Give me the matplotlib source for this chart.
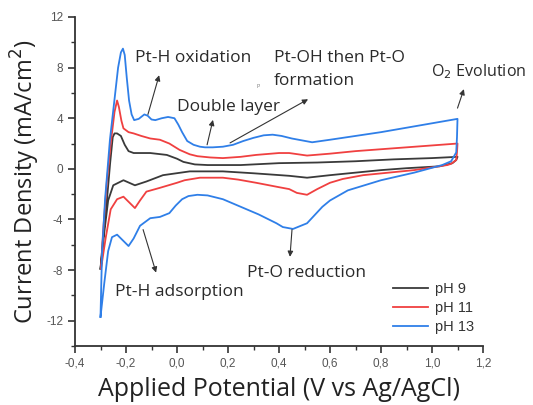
import matplotlib
matplotlib.use("Agg")
import matplotlib.pyplot as plt
from matplotlib.ticker import MultipleLocator, FuncFormatter

# ---- data ----
ph9_x = [-0.300, -0.290, -0.275, -0.262, -0.252, -0.245, -0.235, -0.220, -0.205, -0.190, -0.170,
         -0.105, -0.040, 0.000, 0.025, 0.070, 0.120, 0.250, 0.400, 0.550, 0.700, 0.850, 1.000, 1.100,
         1.095, 1.080, 1.030, 0.900, 0.800, 0.700, 0.600, 0.510, 0.440, 0.300, 0.180, 0.050,
         -0.055, -0.120, -0.165, -0.210, -0.250, -0.270, -0.285, -0.300]
ph9_y = [-7.9, -5.5, -2.5, 0.5, 2.5, 2.8, 2.8, 2.6, 1.9, 1.4, 1.25,
         1.25, 1.1, 0.8, 0.55, 0.35, 0.3, 0.3, 0.45, 0.5, 0.6, 0.75, 0.85, 0.95,
         0.7, 0.45, 0.2, 0.05, -0.1, -0.3, -0.5, -0.7, -0.55, -0.35, -0.2, -0.2,
         -0.5, -1.0, -1.3, -0.9, -1.3, -2.5, -5.0, -7.9]

ph11_x = [-0.298, -0.290, -0.275, -0.260, -0.245, -0.235, -0.228, -0.218, -0.210, -0.190, -0.170,
          -0.140, -0.105, -0.067, -0.030, 0.010, 0.050, 0.080, 0.130, 0.180, 0.250, 0.310, 0.400,
          0.440, 0.510, 0.600, 0.700, 0.800, 0.900, 1.000, 1.100,
          1.098, 1.095, 1.075, 1.060, 0.930, 0.830, 0.730, 0.650, 0.600, 0.550, 0.510, 0.470,
          0.440, 0.400, 0.310, 0.240, 0.180, 0.090, 0.030, 0.000, -0.067, -0.120, -0.145,
          -0.165, -0.190, -0.210, -0.235, -0.260, -0.280, -0.298]
ph11_y = [-7.9, -5.0, -1.0, 2.0, 4.5, 5.4, 4.9, 3.8, 3.2, 2.9, 2.8,
          2.6, 2.4, 2.3, 2.0, 1.5, 1.15, 1.0, 0.9, 0.85, 0.95, 1.1, 1.25,
          1.25, 1.05, 1.2, 1.4, 1.55, 1.7, 1.85, 2.0,
          1.3, 0.7, 0.4, 0.3, -0.1, -0.3, -0.5, -0.8, -1.1, -1.6, -2.05, -1.9,
          -1.6, -1.45, -1.1, -0.85, -0.7, -0.7, -0.9, -1.1, -1.5, -1.8, -2.5,
          -3.1, -2.6, -2.2, -2.4, -3.2, -5.5, -7.9]

ph13_x = [-0.300, -0.294, -0.282, -0.263, -0.245, -0.231, -0.220, -0.212, -0.205, -0.197, -0.188,
          -0.178, -0.168, -0.150, -0.128, -0.115, -0.100, -0.085, -0.060, -0.035, -0.010, 0.005,
          0.020, 0.040, 0.065, 0.090, 0.110, 0.140, 0.180, 0.220, 0.260, 0.300, 0.340, 0.375,
          0.410, 0.450, 0.490, 0.530, 0.600, 0.700, 0.800, 0.900, 1.000, 1.100,
          1.098, 1.095, 1.075, 1.040, 0.930, 0.800, 0.670, 0.600, 0.570, 0.510, 0.455, 0.415,
          0.390, 0.320, 0.250, 0.180, 0.120, 0.080, 0.045, 0.020, -0.005, -0.030, -0.067, -0.105,
          -0.145, -0.170, -0.190, -0.215, -0.235, -0.255, -0.270, -0.285, -0.300]
ph13_y = [-11.7, -6.6, -2.4, 2.3, 5.5, 8.0, 9.2, 9.5, 9.0, 7.2, 5.4,
          4.3, 3.85, 3.95, 4.3, 4.2, 3.9, 3.85, 4.0, 4.1, 4.0, 3.5,
          2.9, 2.2, 1.9, 1.75, 1.7, 1.7, 1.75, 1.9, 2.2, 2.45, 2.65, 2.7,
          2.6, 2.4, 2.25, 2.1, 2.3, 2.6, 2.9, 3.25, 3.6, 3.95,
          2.5, 1.3, 0.6, 0.3, -0.3, -0.9, -1.7, -2.5, -3.0, -4.3, -4.75, -4.6,
          -4.3, -3.6, -3.0, -2.4, -2.1, -2.05, -2.15, -2.4, -2.9, -3.5, -3.8, -3.9,
          -4.5, -5.5, -6.1, -5.6, -5.2, -5.4, -6.5, -9.0, -11.7]

labels = ["pH 9", "pH 11", "pH 13"]
colors = ["#3a3a3a", "#f04040", "#2f7fe8"]

xticks = [-0.4, -0.2, 0.0, 0.2, 0.4, 0.6, 0.8, 1.0, 1.2]
yticks = [-12, -8, -4, 0, 4, 8, 12]

# ---- figure ----
fig = plt.figure(figsize=(5.33, 4.05), dpi=100)
ax = fig.add_axes([75/533, 1 - 346/405, 408/533, 329/405])

for xs, ys, lab, c in zip([ph9_x, ph11_x, ph13_x], [ph9_y, ph11_y, ph13_y], labels, colors):
    ax.plot(xs, ys, color=c, lw=1.3, label=lab, solid_joinstyle="round")

ax.set_xlim(-0.4, 1.2)
ax.set_ylim(-14, 12)
ax.set_xticks(xticks)
ax.set_yticks(yticks)
ax.xaxis.set_minor_locator(MultipleLocator(0.1))
ax.yaxis.set_minor_locator(MultipleLocator(2))
ax.xaxis.set_major_formatter(FuncFormatter(lambda v, p: f"{v:.1f}".replace(".", ",").replace("-0,0", "0,0")))
ax.yaxis.set_major_formatter(FuncFormatter(lambda v, p: f"{int(round(v))}"))

for s in ["top", "right"]:
    ax.spines[s].set_visible(False)
for s in ["left", "bottom"]:
    ax.spines[s].set_color("#333333")
    ax.spines[s].set_linewidth(1.3)
ax.tick_params(which="major", direction="out", length=5, width=1.2, color="#333333",
               labelsize=8.5, labelcolor="#555555")
ax.tick_params(which="minor", direction="out", length=3, width=1.0, color="#333333")
for t in ax.get_xticklabels() + ax.get_yticklabels():
    t.set_family("Liberation Sans")

ax.set_xlabel("Applied Potential (V vs Ag/AgCl)", labelpad=5, family="Open Sans", size=18,
              color="#222222")
ax.set_ylabel("Current Density (mA/cm$^2$)", labelpad=3, family="Open Sans", size=17,
              color="#222222")

# ---- annotations ----
afont = dict(family="Open Sans", size=12.5, color="#2a2a2a", va="center", ha="left")
arrow = dict(arrowstyle="-|>", color="#333333", lw=0.8, mutation_scale=8, shrinkA=0, shrinkB=0)

ax.annotate("", xy=(-0.07, 7.4), xytext=(-0.114, 4.3), arrowprops=arrow)
ax.text(-0.165, 8.76, "Pt-H oxidation", **afont)

ax.annotate("", xy=(0.141, 3.87), xytext=(0.118, 1.9), arrowprops=arrow)
ax.text(0.0, 4.9, "Double layer", **afont)

ax.annotate("", xy=(0.514, 5.5), xytext=(0.208, 2.05), arrowprops=arrow)
ax.text(0.38, 8.76, "Pt-OH then Pt-O", **afont)
ax.text(0.38, 6.95, "formation", **afont)
ax.text(0.318, 6.47, "P", family="Open Sans", size=4, color="#777777", ha="center", va="center")

ax.annotate("", xy=(1.125, 6.3), xytext=(1.10, 4.8), arrowprops=arrow)
ax.text(0.995, 7.66, "O$_2$ Evolution", **{**afont, "size": 11.6})

ax.annotate("", xy=(0.443, -6.95), xytext=(0.451, -4.8), arrowprops=arrow)
ax.text(0.275, -8.2, "Pt-O reduction", **afont)

ax.annotate("", xy=(-0.082, -8.2), xytext=(-0.133, -4.8), arrowprops=arrow)
ax.text(-0.243, -9.7, "Pt-H adsorption", **afont)

leg = ax.legend(loc="upper left", bbox_to_anchor=(0.779, 0.194), frameon=False,
                prop={"family": "Liberation Sans", "size": 10.5}, handlelength=2.4,
                handletextpad=0.5, labelspacing=0.35, borderpad=0, borderaxespad=0)
for t in leg.get_texts():
    t.set_color("#333333")

fig.savefig("out.png", dpi=100)
